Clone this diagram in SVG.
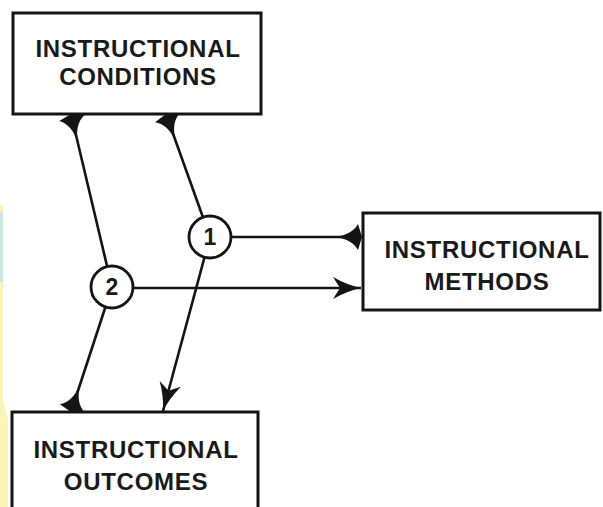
<svg xmlns="http://www.w3.org/2000/svg" width="603" height="507" viewBox="0 0 603 507">
<style>
.box{fill:#fff;stroke:#141414;stroke-width:3}
.lbl{font-family:"Liberation Sans",Arial,sans-serif;font-weight:bold;font-size:24px;fill:#1a1a1a;text-anchor:middle;letter-spacing:0.7px}
.num{font-family:"Liberation Sans",Arial,sans-serif;font-weight:bold;font-size:23px;fill:#1a1a1a;text-anchor:middle}
.conn{fill:none;stroke:#141414;stroke-width:2.6}
.circ{fill:#fff;stroke:#141414;stroke-width:2.8}
</style>
<defs>
<marker id="fwd" markerUnits="userSpaceOnUse" refX="0" refY="0" markerWidth="40" markerHeight="40" orient="auto" overflow="visible">
<path d="M0,0 Q-14,-3 -28,-11 L-21,0 L-28,11 Q-14,3 0,0 Z" fill="#141414"/>
</marker>
<marker id="rev" markerUnits="userSpaceOnUse" refX="0" refY="0" markerWidth="40" markerHeight="40" orient="auto" overflow="visible">
<path d="M-28,0 Q-10,2 -4,13 L0,0 L-4,-13 Q-10,-2 -28,0 Z" fill="#141414"/>
</marker>
</defs>
<rect width="603" height="507" fill="#fff"/>
<polygon points="0,205 3,205 3,400 8,420 8,507 0,507" fill="#fbf5b5"/>
<rect x="0" y="212" width="3" height="70" fill="#c9ead9"/>
<g id="connectors">
<line class="conn" x1="112" y1="287" x2="71" y2="114" marker-end="url(#rev)"/>
<line class="conn" x1="210" y1="237" x2="166" y2="114" marker-end="url(#rev)"/>
<line class="conn" x1="210" y1="237" x2="362" y2="237" marker-end="url(#rev)"/>
<line class="conn" x1="112" y1="288" x2="361" y2="288" marker-end="url(#fwd)"/>
<line class="conn" x1="210" y1="237" x2="163" y2="411" marker-end="url(#fwd)"/>
<line class="conn" x1="112" y1="287" x2="71" y2="412" marker-end="url(#rev)"/>
</g>
<g id="conditions">
<rect class="box" x="13" y="13" width="248" height="101"/>
<text class="lbl" x="138" y="57">INSTRUCTIONAL</text>
<text class="lbl" x="138" y="85">CONDITIONS</text>
</g>
<g id="methods">
<rect class="box" x="363" y="213" width="237" height="97"/>
<text class="lbl" x="487" y="258">INSTRUCTIONAL</text>
<text class="lbl" x="487" y="290">METHODS</text>
</g>
<g id="outcomes">
<rect class="box" x="12" y="412" width="246" height="110"/>
<text class="lbl" x="136" y="458">INSTRUCTIONAL</text>
<text class="lbl" x="136" y="490">OUTCOMES</text>
</g>
<g id="node1">
<circle class="circ" cx="210" cy="237" r="21"/>
<text class="num" x="210" y="245">1</text>
</g>
<g id="node2">
<circle class="circ" cx="112" cy="287" r="21"/>
<text class="num" x="112" y="295">2</text>
</g>
</svg>
